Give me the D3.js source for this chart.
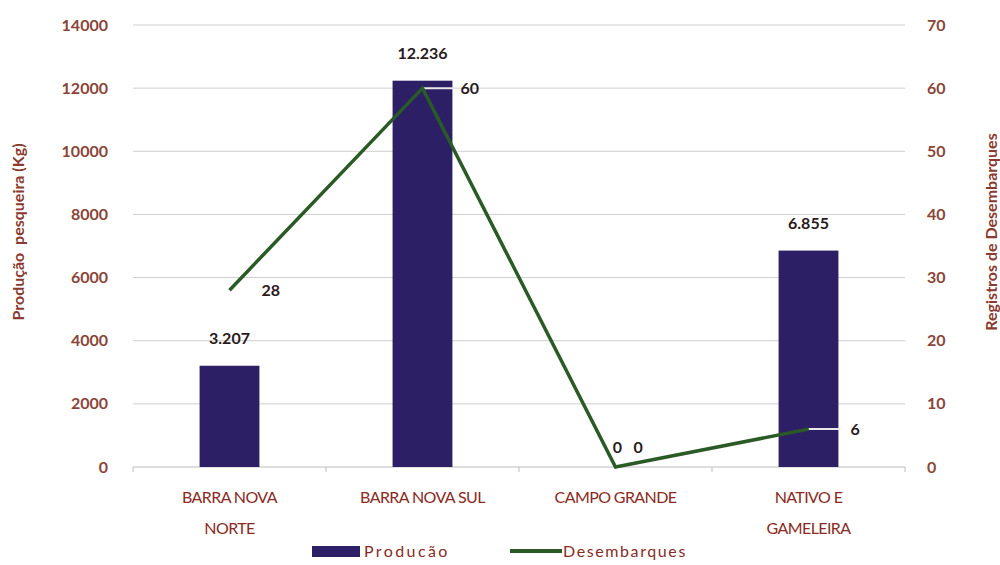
<!DOCTYPE html>
<html><head><meta charset="utf-8">
<script src="https://cdn.jsdelivr.net/npm/d3@7"></script>
<style>body{margin:0;background:#fff}svg{font-family:Lato,"Open Sans",sans-serif}</style>
</head><body><svg id="c" width="1000" height="565"></svg>
<script>
const categories = ["BARRA NOVA|NORTE", "BARRA NOVA SUL", "CAMPO GRANDE", "NATIVO E|GAMELEIRA"];
const producao = [3207, 12236, 0, 6855];
const producaoLabels = ["3.207", "12.236", "0", "6.855"];
const desembarques = [28, 60, 0, 6];
const leftTicks = [0, 2000, 4000, 6000, 8000, 10000, 12000, 14000];
const rightTicks = [0, 10, 20, 30, 40, 50, 60, 70];

const svg = d3.select("#c");
const L = 133, R = 905, T = 25, B = 467;
const x = d3.scaleBand().domain(categories).range([L, R]).paddingInner(0.69).paddingOuter(0.345);
const xc = d3.scaleBand().domain(categories).range([L, R]);
const yL = d3.scaleLinear().domain([0, 14000]).range([B, T]);
const yR = d3.scaleLinear().domain([0, 70]).range([B, T]);
const tickCol = "#8a4538";

svg.append("g").selectAll("line").data(leftTicks.slice(1)).join("line")
  .attr("x1", L).attr("x2", R).attr("y1", d => yL(d)).attr("y2", d => yL(d))
  .attr("stroke", "#cfcfcf").attr("stroke-width", 1);
svg.append("line").attr("x1", L).attr("x2", R).attr("y1", B).attr("y2", B).attr("stroke", "#bdbdbd");
svg.append("g").selectAll("line").data(d3.range(categories.length + 1)).join("line")
  .attr("x1", i => L + i * xc.bandwidth()).attr("x2", i => L + i * xc.bandwidth())
  .attr("y1", B).attr("y2", B + 5).attr("stroke", "#bdbdbd");

svg.append("g").selectAll("text").data(leftTicks).join("text")
  .attr("x", 108).attr("y", d => yL(d) + 5.5).attr("text-anchor", "end")
  .attr("font-size", 16).attr("font-weight", "bold").attr("fill", tickCol).text(d => d);
svg.append("g").selectAll("text").data(rightTicks).join("text")
  .attr("x", 927).attr("y", d => yR(d) + 5.5).attr("text-anchor", "start")
  .attr("font-size", 16).attr("font-weight", "bold").attr("fill", tickCol).text(d => d);

svg.append("text").attr("transform", "translate(24,232) rotate(-90)").attr("text-anchor", "middle")
  .attr("font-size", 16).attr("font-weight", "bold").attr("fill", "#8a3a2e")
  .attr("style", "white-space:pre").text("Produção  pesqueira (Kg)");
svg.append("text").attr("transform", "translate(997,232) rotate(-90)").attr("text-anchor", "middle")
  .attr("font-size", 16).attr("font-weight", "bold").attr("fill", "#8a3a2e").text("Registros de Desembarques");

svg.append("g").selectAll("rect").data(producao).join("rect")
  .attr("x", (d, i) => x(categories[i])).attr("width", x.bandwidth())
  .attr("y", d => yL(d)).attr("height", d => B - yL(d)).attr("fill", "#2c1f66");
svg.append("g").selectAll("text").data(producao).join("text")
  .attr("x", (d, i) => xc(categories[i]) + xc.bandwidth() / 2 + (d === 0 ? 2 : 0))
  .attr("y", d => d === 0 ? yL(d) - 14 : yL(d) - 22).attr("text-anchor", "middle")
  .attr("font-size", 16).attr("font-weight", "bold").attr("fill", "#2a1a1a")
  .text((d, i) => producaoLabels[i]);

const cx = i => xc(categories[i]) + xc.bandwidth() / 2;
[1, 3].forEach(i => {
  svg.append("line").attr("x1", cx(i)).attr("x2", cx(i) + 32)
    .attr("y1", yR(desembarques[i])).attr("y2", yR(desembarques[i]))
    .attr("stroke", "#e8e8e8").attr("stroke-width", 2);
});
svg.append("path").datum(desembarques)
  .attr("d", d3.line().x((d, i) => cx(i)).y(d => yR(d)))
  .attr("fill", "none").attr("stroke", "#2a5a25").attr("stroke-width", 3.5);
const lblOff = [32, 38, 18, 42];
svg.append("g").selectAll("text").data(desembarques).join("text")
  .attr("x", (d, i) => cx(i) + lblOff[i]).attr("y", (d, i) => i === 2 ? yR(d) - 14 : yR(d) + 6)
  .attr("font-size", 16).attr("font-weight", "bold").attr("fill", "#2a1a1a")
  .text(d => d);

svg.append("g").selectAll("text").data(categories).join("text")
  .attr("text-anchor", "middle").attr("font-size", 16).attr("fill", "#8a2a22")
  .attr("letter-spacing", -0.6)
  .each(function(d, i) {
    const parts = d.split("|");
    parts.forEach((p, j) => {
      d3.select(this).append("tspan").attr("x", cx(i)).attr("y", 503 + j * 31).text(p);
    });
  });

svg.append("rect").attr("x", 312).attr("y", 546).attr("width", 48).attr("height", 11).attr("fill", "#2c1f66");
svg.append("text").attr("x", 364).attr("y", 557).attr("font-size", 16).attr("letter-spacing", 2.4).attr("fill", "#8a2a22").text("Producão");
svg.append("line").attr("x1", 510).attr("x2", 562).attr("y1", 551).attr("y2", 551).attr("stroke", "#2a5a25").attr("stroke-width", 4);
svg.append("text").attr("x", 563).attr("y", 557).attr("font-size", 16).attr("letter-spacing", 1.6).attr("fill", "#8a2a22").text("Desembarques");
</script></body></html>
